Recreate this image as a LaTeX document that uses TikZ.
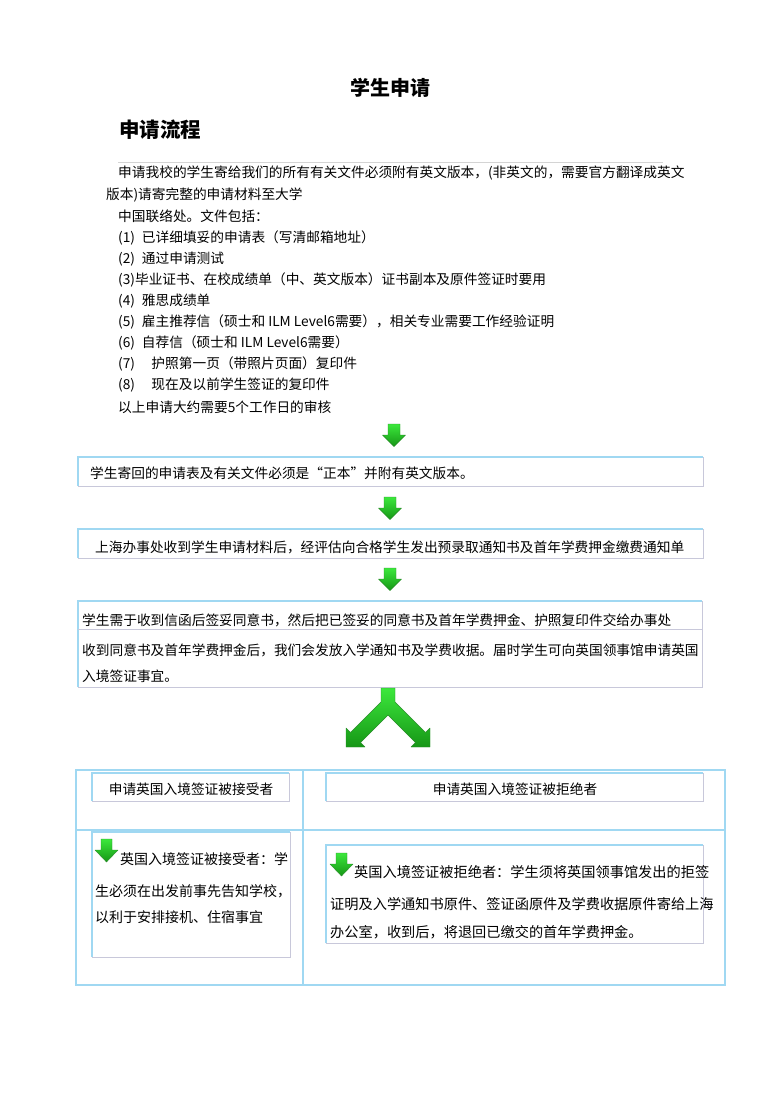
\documentclass[tikz,border=0pt]{standalone}
\usepackage{fontspec}
\setmainfont{Noto Sans CJK SC}
\definecolor{bluel}{RGB}{160,216,242}
\definecolor{grayl}{RGB}{200,200,218}
\definecolor{rulegray}{RGB}{212,212,212}
\definecolor{gtop}{RGB}{60,232,60}
\definecolor{gbot}{RGB}{22,150,22}
\definecolor{gedge}{RGB}{40,140,40}
\newcommand\flowbox[5]{%
  \path (#2,#3) coordinate (#1-nw) (#4,#5) coordinate (#1-se);
  \fill[white] (#1-nw) rectangle (#1-se);
  \draw[bluline] (#1-nw|-#1-se) -- (#1-nw) -- (#1-se|-#1-nw);
  \draw[grayline] (#1-nw|-#1-se) -- (#1-se) -- (#1-se|-#1-nw);
}
\newcommand\bigdown[2]{%
  \begin{scope}[shift={(#1,#2)}]
  \path[garrow] (-6,0) -- (6,0) -- (6,11) -- (11.5,11) -- (0,22.5) -- (-11.5,11) -- (-6,11) -- cycle;
  \end{scope}
}
\newcommand\smalldown[2]{%
  \begin{scope}[shift={(#1,#2)}]
  \path[garrow] (-5.5,0) -- (5.5,0) -- (5.5,11) -- (11.5,11) -- (0,23) -- (-11.5,11) -- (-5.5,11) -- cycle;
  \end{scope}
}
\begin{document}
\begin{tikzpicture}[x=1pt,y=-1pt,
  bluline/.style={draw=bluel,line width=1.2pt},
  grayline/.style={draw=grayl,line width=1pt},
  tblline/.style={draw=bluel,line width=1.2pt},
  garrow/.style={top color=gtop,bottom color=gbot,draw=gedge,line width=0.4pt,line join=round},
  txt/.style={inner sep=0pt,anchor=west,font=\fontsize{13.7}{16}\selectfont},
  txtb/.style={inner sep=0pt,anchor=west,font=\fontsize{14}{16}\selectfont},
  txtc/.style={inner sep=0pt,anchor=west,font=\fontsize{14.2}{16}\selectfont}]
\useasboundingbox (0,0) rectangle (782,1106);
\fill[white] (0,0) rectangle (782,1106);

% titles
\node[inner sep=0pt,font=\fontsize{20}{24}\selectfont\bfseries] (title) at (390,88) {学生申请};
\node[inner sep=0pt,anchor=west,font=\fontsize{20.5}{24}\selectfont\bfseries] (head) at (119,130) {申请流程};
\draw[rulegray,line width=0.8pt] (118,162) -- (663,162);

% intro text
\node[txt] (i1) at (118,173) {申请我校的学生寄给我们的所有有关文件必须附有英文版本，(非英文的，需要官方翻译成英文};
\node[txt] (i2) at (106,195) {版本)请寄完整的申请材料至大学};
\node[txt] (i3) at (118,216) {中国联络处。文件包括：};
\node[txt] (l1) at (118,238) {(1)\hspace{0.5em}已详细填妥的申请表（写清邮箱地址）};
\node[txt] (l2) at (118,259) {(2)\hspace{0.5em}通过申请测试};
\node[txt] (l3) at (118,280) {(3)毕业证书、在校成绩单（中、英文版本）证书副本及原件签证时要用};
\node[txt] (l4) at (118,301) {(4)\hspace{0.5em}雅思成绩单};
\node[txt] (l5) at (118,322) {(5)\hspace{0.5em}雇主推荐信（硕士和 ILM Level6需要），相关专业需要工作经验证明};
\node[txt] (l6) at (118,343) {(6)\hspace{0.5em}自荐信（硕士和 ILM Level6需要）};
\node[txt] (l7) at (118,364) {(7)\hspace{1.2em}护照第一页（带照片页面）复印件};
\node[txt] (l8) at (118,385) {(8)\hspace{1.2em}现在及以前学生签证的复印件};
\node[txt] (i4) at (118,407) {以上申请大约需要5个工作日的审核};

% flow
\bigdown{394}{424}
\flowbox{b1}{78}{457}{703}{486}
\node[txt] (t1) at (90,473) {学生寄回的申请表及有关文件必须是“正本”并附有英文版本。};
\bigdown{390}{497}
\flowbox{b2}{78}{529}{703}{558}
\node[txt] (t2) at (95,547) {上海办事处收到学生申请材料后，经评估向合格学生发出预录取通知书及首年学费押金缴费通知单};
\bigdown{390}{568}
\flowbox{b3}{78}{601}{702}{687}
\draw[grayline] (78,629) -- (702,629);
\node[txt] (t3) at (82,620) {学生需于收到信函后签妥同意书，然后把已签妥的同意书及首年学费押金、护照复印件交给办事处};
\node[txt] (t4) at (82,650) {收到同意书及首年学费押金后，我们会发放入学通知书及学费收据。届时学生可向英国领事馆申请英国};
\node[txt] (t5) at (82,676) {入境签证事宜。};

% split arrow
\path[garrow] (381,688) -- (395,688) -- (395,702) -- (425.5,732.5) -- (430,728) -- (430,747) -- (411,747) -- (415.5,742.5) -- (388,715) -- (360.5,742.5) -- (365,747) -- (346,747) -- (346,728) -- (350.5,732.5) -- (381,702) -- cycle;

% table
\draw[tblline] (76,770) rectangle (725,985);
\draw[tblline] (303,770) -- (303,985);
\draw[tblline] (76,830) -- (725,830);

\flowbox{hA}{92}{773}{289}{801}
\node[inner sep=0pt,font=\fontsize{13.7}{16}\selectfont] (hAt) at (191,789) {申请英国入境签证被接受者};
\flowbox{hR}{326}{773}{703}{801}
\node[inner sep=0pt,font=\fontsize{13.7}{16}\selectfont] (hRt) at (515,789) {申请英国入境签证被拒绝者};

\flowbox{lA}{92}{832}{290}{957}
\smalldown{106.5}{839}
\node[txtb] (a1) at (120,859) {英国入境签证被接受者：学};
\node[txtb] (a2) at (95,891) {生必须在出发前事先告知学校，};
\node[txtb] (a3) at (95,917) {以利于安排接机、住宿事宜};

\flowbox{lR}{326}{845}{703}{943}
\smalldown{341.5}{853}
\node[txtc] (r1) at (354,872) {英国入境签证被拒绝者：学生须将英国领事馆发出的拒签};
\node[txtc] (r2) at (330,904) {证明及入学通知书原件、签证函原件及学费收据原件寄给上海};
\node[txtc] (r3) at (330,932) {办公室，收到后，将退回已缴交的首年学费押金。};
\end{tikzpicture}
\end{document}
